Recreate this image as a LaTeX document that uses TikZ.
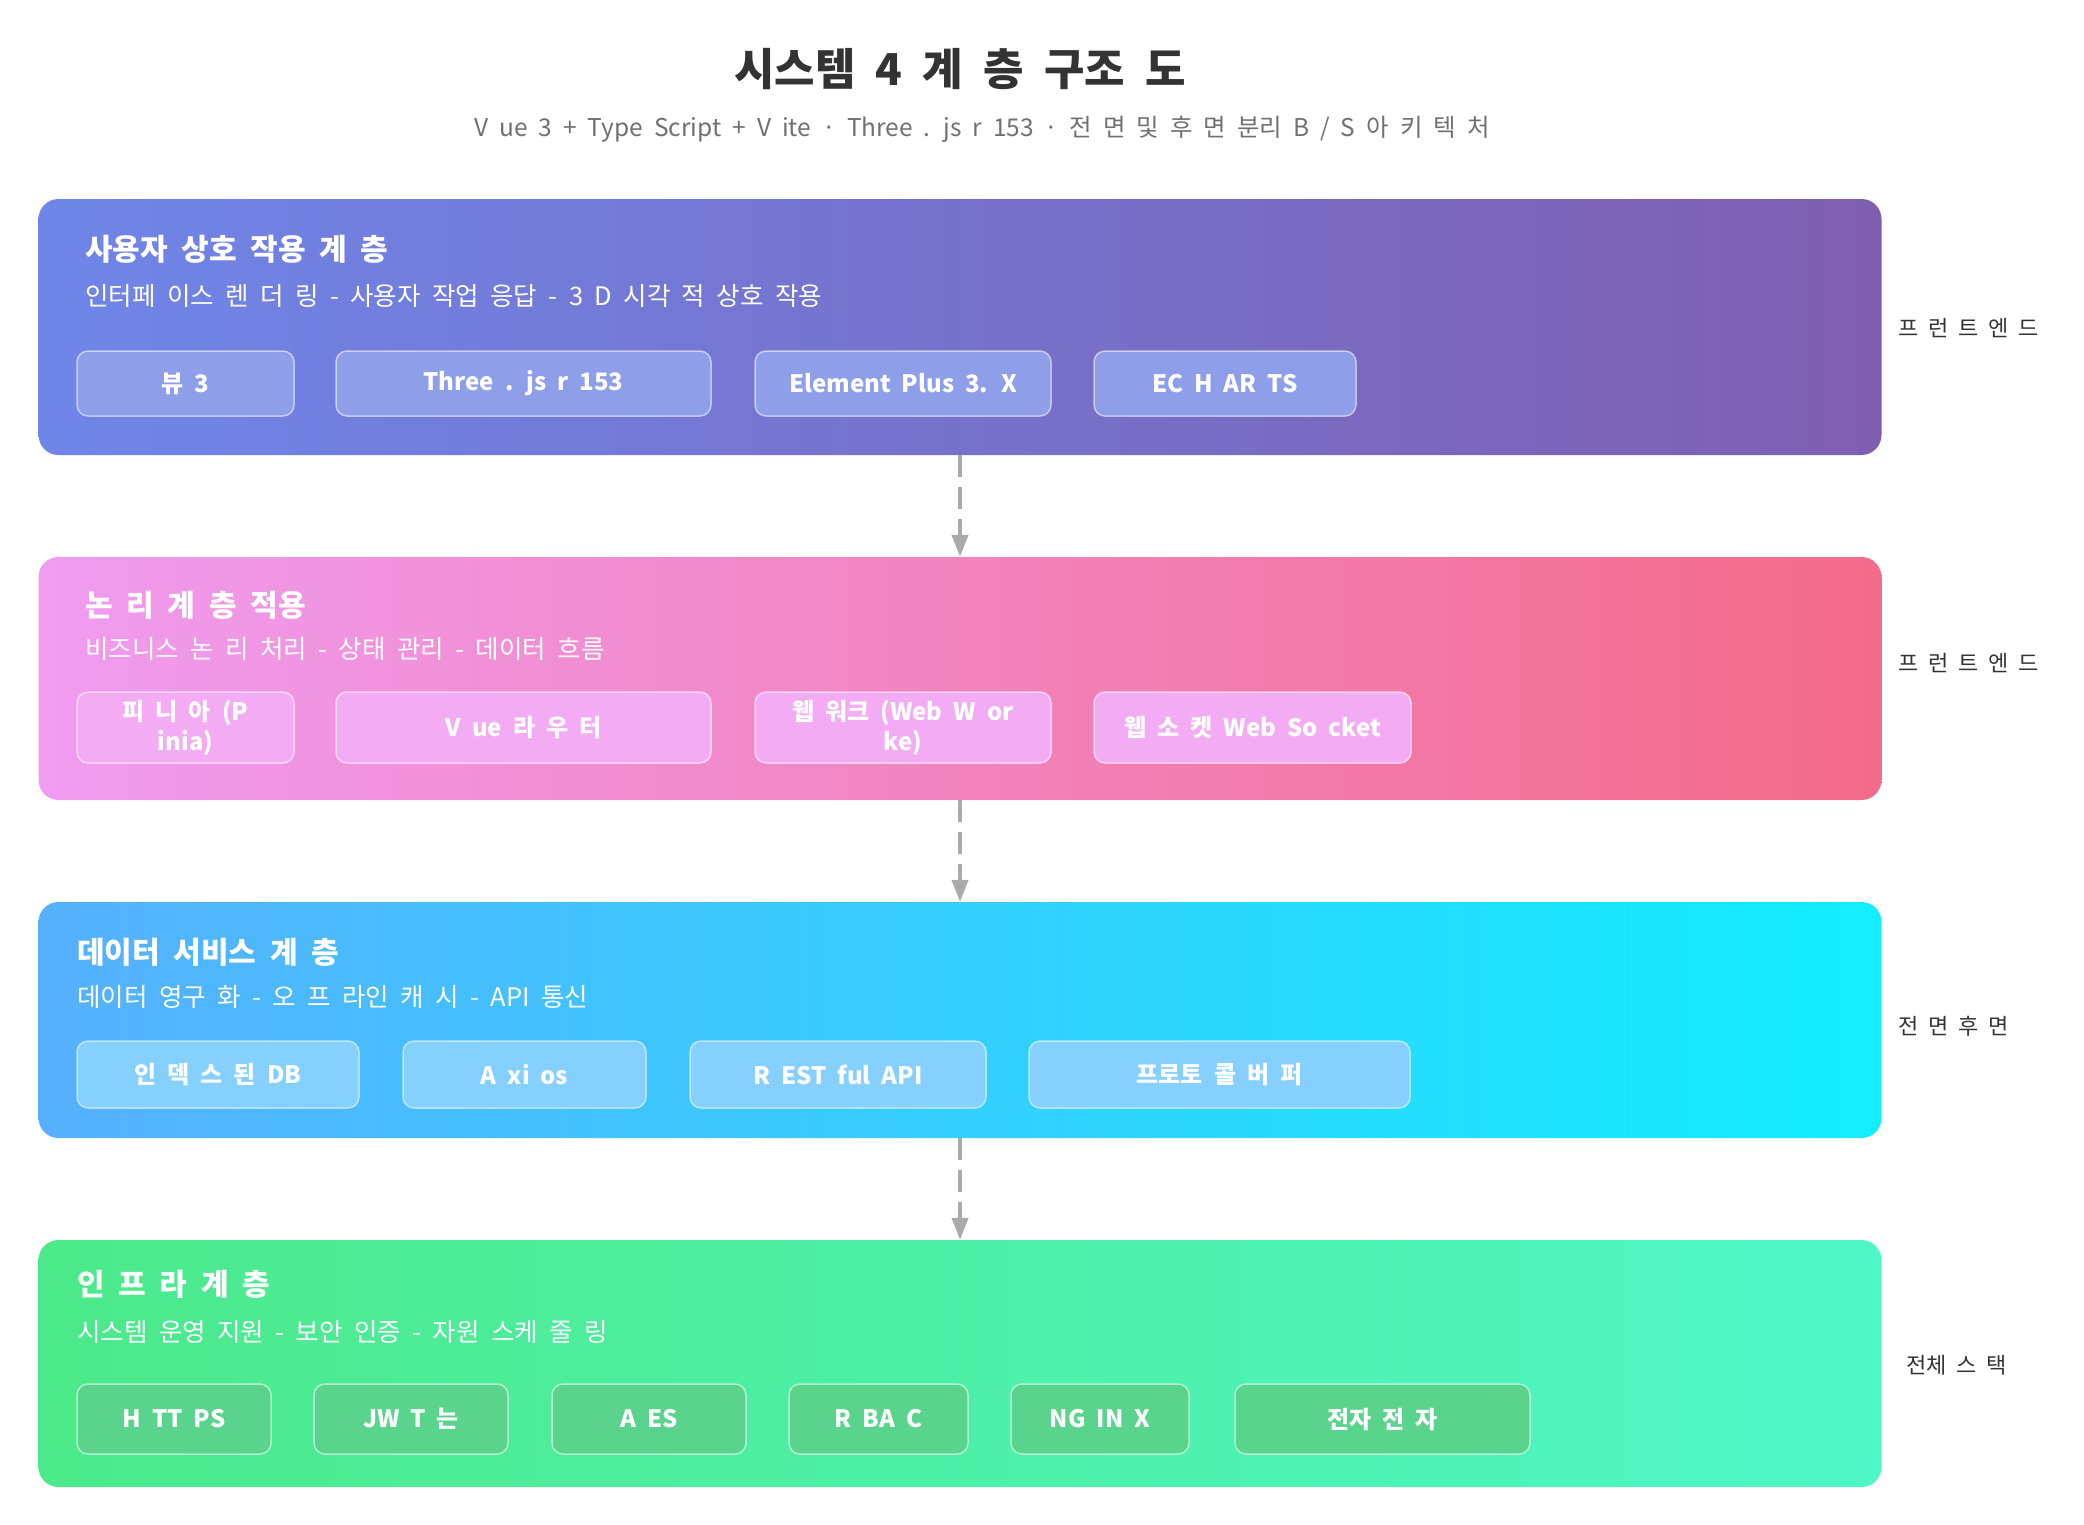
\documentclass[tikz,border=0pt]{standalone}
\usepackage{fontspec}
\setmainfont{Noto Sans CJK KR}[WordSpace=2]
\usepackage{xcolor}
\usepackage{tikz}
\usetikzlibrary{arrows.meta, positioning}
\definecolor{ttl}{HTML}{333333}
\definecolor{subttl}{HTML}{707070}
\definecolor{arrgray}{HTML}{AAAAAA}
\definecolor{uia}{HTML}{6F86E8}
\definecolor{uib}{HTML}{7E5EB0}
\definecolor{bza}{HTML}{F09CF0}
\definecolor{bzb}{HTML}{F36B8A}
\definecolor{dta}{HTML}{56B0FC}
\definecolor{dtb}{HTML}{12EEFE}
\definecolor{ifa}{HTML}{4CE98A}
\definecolor{ifb}{HTML}{4FF6C6}
\definecolor{uichip}{HTML}{8F9EE9}
\definecolor{bzchip}{HTML}{F3ACF3}
\definecolor{dtchip}{HTML}{86D0FF}
\definecolor{ifchip}{HTML}{5AD48C}
\tikzset{
  layer/.style={rectangle, rounded corners=20pt, minimum width=1843pt, inner sep=0pt},
  uilayer/.style={layer, left color=uia, right color=uib},
  bzlayer/.style={layer, left color=bza, right color=bzb},
  dtlayer/.style={layer, left color=dta, right color=dtb},
  iflayer/.style={layer, left color=ifa, right color=ifb},
  chip/.style={rectangle, rounded corners=11pt, draw=white, draw opacity=0.55, line width=1.5pt,
               text=white, align=center, inner sep=0pt,
               font=\bfseries\fontsize{24}{30}\selectfont},
  uib/.style={chip, fill=uichip},
  bzb/.style={chip, fill=bzchip},
  dtb/.style={chip, fill=dtchip},
  ifb/.style={chip, fill=ifchip},
  lname/.style={anchor=west, inner sep=0pt, text=white, font=\bfseries\fontsize{30}{34}\selectfont},
  ldesc/.style={anchor=west, inner sep=0pt, text=white, font=\fontsize{25.5}{30}\selectfont},
  side/.style={anchor=west, inner sep=0pt, text=ttl, font=\fontsize{22}{26}\selectfont},
  flow/.style={-{Triangle[length=22pt, width=16pt]}, line width=4pt, draw=arrgray,
               dash pattern=on 22pt off 10pt},
}

\begin{document}
\begin{tikzpicture}[x=1pt, y=-1pt,
    h1/.style={minimum height=65pt}, h2/.style={minimum height=71pt},
    h3/.style={minimum height=67pt}, h4/.style={minimum height=70pt}]
  \useasboundingbox (0,0) rectangle (2084,1524);

  % heading
  \node[text=ttl, font=\bfseries\fontsize{44}{50}\selectfont] (title) at (960,69) {시스템 4 계 층 구조 도};
  \node[text=subttl, font=\fontsize{24.5}{28}\selectfont] (subtitle) at (982,129)
        {V ue 3 + Type Script + V ite · Three . js r 153 · 전 면 및 후 면 분리 B / S 아 키 텍 처};

  % layers
  \node[uilayer, minimum height=256pt] (ui)   at (960,327)    {};
  \node[bzlayer, minimum height=243pt] (biz)  at (960,678.5)  {};
  \node[dtlayer, minimum height=236pt] (data) at (960,1020)   {};
  \node[iflayer, minimum height=247pt] (infra) at (960,1363.5) {};

  \draw[flow] (ui)   -- (biz);
  \draw[flow] (biz)  -- (data);
  \draw[flow] (data) -- (infra);

  % user interaction layer
  \node[lname] (uiname) at (85,249) {사용자 상호 작용 계 층};
  \node[ldesc] (uidesc) at (85,296) {인터페 이스 렌 더 링 - 사용자 작업 응답 - 3 D 시각 적 상호 작용};
  \node[uib, h1, minimum width=217pt] (vue)     at (185.5,383.5) {뷰 3};
  \node[uib, h1, minimum width=375pt] (three)   at (523.5,383.5) {Three . js r 153};
  \node[uib, h1, minimum width=296pt] (element) at (903,383.5)   {Element Plus 3. X};
  \node[uib, h1, minimum width=262pt] (echarts) at (1225,383.5)  {EC H AR TS};
  \node[side] (uiside) at (1898,328) {프 런 트 엔 드};

  % business logic layer
  \node[lname] (bzname) at (85,605) {논 리 계 층 적용};
  \node[ldesc] (bzdesc) at (85,649) {비즈니스 논 리 처리 - 상태 관리 - 데이터 흐름};
  \node[bzb, h2, minimum width=217pt] (pinia)  at (185.5,727.5) {피 니 아 (P\\inia)};
  \node[bzb, h2, minimum width=375pt] (router) at (523.5,727.5) {V ue 라 우 터};
  \node[bzb, h2, minimum width=296pt] (worker) at (903,727.5)   {웹 워크 (Web W or\\ke)};
  \node[bzb, h2, minimum width=317pt] (socket) at (1252.5,727.5) {웹 소 켓 Web So cket};
  \node[side] (bzside) at (1898,663) {프 런 트 엔 드};

  % data service layer
  \node[lname] (dtname) at (77,952) {데이터 서비스 계 층};
  \node[ldesc] (dtdesc) at (77,997) {데이터 영구 화 - 오 프 라인 캐 시 - API 통신};
  \node[dtb, h3, minimum width=282pt] (idb)   at (218,1074.5)    {인 덱 스 된 DB};
  \node[dtb, h3, minimum width=243pt] (axios) at (524.5,1074.5)  {A xi os};
  \node[dtb, h3, minimum width=296pt] (rest)  at (838,1074.5)    {R EST ful API};
  \node[dtb, h3, minimum width=381pt] (proto) at (1219.5,1074.5) {프로토 콜 버 퍼};
  \node[side] (dtside) at (1898,1026) {전 면 후 면};

  % infrastructure layer
  \node[lname] (ifname) at (77,1284) {인 프 라 계 층};
  \node[ldesc] (ifdesc) at (77,1332) {시스템 운영 지원 - 보안 인증 - 자원 스케 줄 링};
  \node[ifb, h4, minimum width=194pt] (https) at (174,1419)    {H TT PS};
  \node[ifb, h4, minimum width=194pt] (jwt)   at (411,1419)    {JW T 는};
  \node[ifb, h4, minimum width=194pt] (aes)   at (649,1419)    {A ES};
  \node[ifb, h4, minimum width=179pt] (rbac)  at (878.5,1419)  {R BA C};
  \node[ifb, h4, minimum width=178pt] (nginx) at (1100,1419)   {NG IN X};
  \node[ifb, h4, minimum width=295pt] (e2e)   at (1382.5,1419) {전자 전 자};
  \node[side] (ifside) at (1906,1365) {전체 스 택};
\end{tikzpicture}
\end{document}
